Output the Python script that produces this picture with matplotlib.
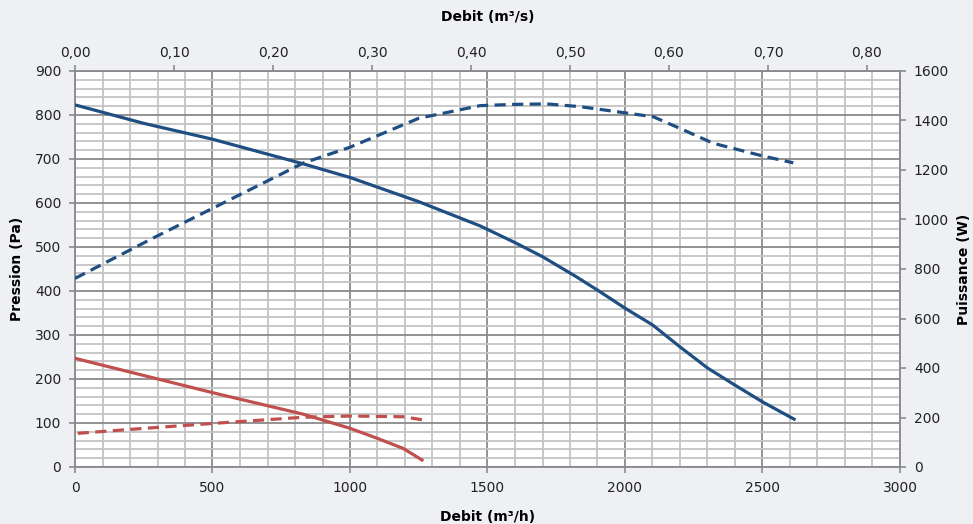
import matplotlib
matplotlib.use("Agg")
import matplotlib.pyplot as plt
from matplotlib.ticker import MultipleLocator, FixedLocator, FuncFormatter

# Data (debit in m3/h)
big_p_x = [0, 250, 500, 830, 1000, 1250, 1473, 1600, 1700, 1824, 1900, 2000, 2100, 2200, 2300, 2400, 2500, 2620]
big_p_y = [823, 781, 745, 689, 658, 603, 548, 510, 478, 432, 402, 361, 323, 273, 225, 186, 148, 107]

big_w_x = [0, 284, 500, 830, 1000, 1250, 1473, 1593, 1716, 1836, 2000, 2103, 2200, 2321, 2503, 2612]
big_w_y = [762, 925, 1045, 1228, 1292, 1409, 1460, 1465, 1467, 1456, 1431, 1415, 1368, 1308, 1256, 1229]

small_p_x = [0, 250, 500, 830, 1000, 1100, 1194, 1267]
small_p_y = [247, 208, 169, 120, 88, 65, 42, 14]

small_w_x = [10, 250, 500, 830, 1000, 1194, 1267]
small_w_y = [136, 156, 176, 201, 206, 203, 190]

top_ticks = [0.0, 0.1, 0.2, 0.3, 0.4, 0.5, 0.6, 0.7, 0.8]

BLUE = "#1F4E82"
RED = "#C0504D"
BG = "#EEF0F4"
TXT = "#222222"

plt.rcParams['font.family'] = ['DejaVu Sans']

fig = plt.figure(figsize=(9.73, 5.24), dpi=100, facecolor=BG)
ax = fig.add_axes([75/973, 1-467/524, (900-75)/973, (467-71)/524])
ax.set_facecolor("white")

ax.set_xlim(0, 3000)
ax.set_ylim(0, 900)
ax.xaxis.set_major_locator(MultipleLocator(500))
ax.xaxis.set_minor_locator(MultipleLocator(100))
ax.yaxis.set_major_locator(MultipleLocator(100))
ax.yaxis.set_minor_locator(MultipleLocator(20))
ax.grid(which='minor', color="#C4C4C4", lw=1.3, zorder=0)
ax.grid(which='major', color="#8A8A8A", lw=1.3, zorder=0)
ax.set_axisbelow(True)
ax.tick_params(which='minor', length=0)
ax.tick_params(which='major', length=4, width=1.2, color="#8A8A8A", labelsize=10, labelcolor=TXT, pad=6)

for s in ax.spines.values():
    s.set_color("#8A8A8A")
    s.set_linewidth(1.3)

dash = (0, (3.5, 2.0))
ax.plot(big_p_x, big_p_y, color=BLUE, lw=2.3, solid_capstyle='butt', solid_joinstyle='round', zorder=3)
ax.plot(small_p_x, small_p_y, color=RED, lw=2.3, solid_capstyle='butt', solid_joinstyle='round', zorder=3)

ax2 = ax.twinx()
ax2.set_ylim(0, 1600)
ax2.yaxis.set_major_locator(MultipleLocator(200))
ax2.tick_params(which='major', length=4, width=1.2, color="#8A8A8A", labelsize=10, labelcolor=TXT, pad=6)
for s in ax2.spines.values():
    s.set_visible(False)
ax2.plot(big_w_x, big_w_y, color=BLUE, lw=2.3, ls=dash, zorder=3)
ax2.plot(small_w_x, small_w_y, color=RED, lw=2.3, ls=dash, zorder=3)

top = ax.secondary_xaxis('top', functions=(lambda v: v/3600, lambda v: v*3600))
top.xaxis.set_major_locator(FixedLocator(top_ticks))
top.xaxis.set_major_formatter(FuncFormatter(lambda v, p: f"{v:.2f}".replace('.', ',')))
top.tick_params(length=4, width=1.2, color="#8A8A8A", labelsize=10, labelcolor=TXT, pad=4)
top.spines['top'].set_visible(False)

ax.set_xlabel("Debit (m³/h)", fontsize=10, fontweight='bold', color="black", labelpad=11)
ax.set_ylabel("Pression (Pa)", fontsize=10, fontweight='bold', color="black", labelpad=8)
ax2.set_ylabel("Puissance (W)", fontsize=10, fontweight='bold', color="black", labelpad=6)
top.set_xlabel("Debit (m³/s)", fontsize=10, fontweight='bold', color="black", labelpad=18)

fig.savefig("out.png", dpi=100, facecolor=BG)
